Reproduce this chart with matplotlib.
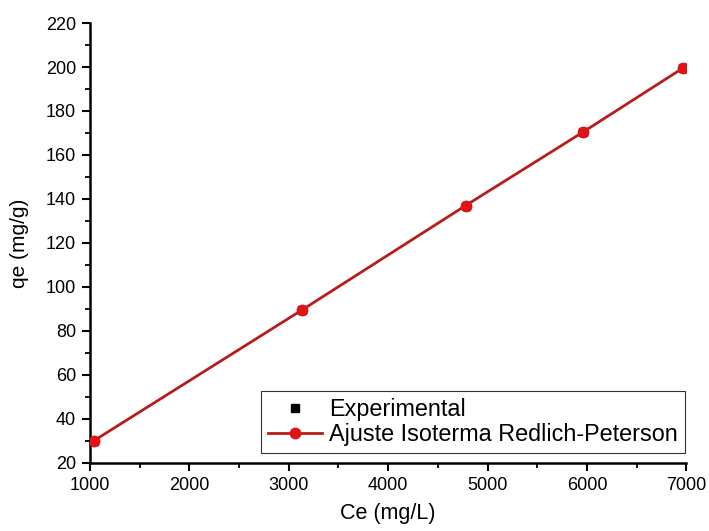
import matplotlib
matplotlib.use("Agg")
import matplotlib.pyplot as plt
from matplotlib.ticker import MultipleLocator

plt.rcParams['font.family'] = ['Liberation Sans', 'DejaVu Sans']

# isotherm data
ce_exp = [1035, 3130, 4780, 5960, 6962]
qe_exp = [29.9, 89.4, 137.0, 170.4, 199.4]
ce_fit = [1035, 3130, 4780, 5960, 6962]
qe_fit = [29.9, 89.4, 137.0, 170.4, 199.4]

fig = plt.figure(figsize=(7.09, 5.31), dpi=100)
ax = fig.add_axes([0.127, 0.1286, 0.841, 0.828])

ax.plot(ce_exp, qe_exp, 's', color='black', markersize=6, label='Experimental', zorder=3)
ax.plot(ce_fit, qe_fit, '-o', color='#b81c1c', markerfacecolor='#e01414',
        markeredgecolor='#e01414', markersize=7.5, linewidth=2, label='Ajuste Isoterma Redlich-Peterson', zorder=4)

ax.set_xlim(1000, 7000)
ax.set_ylim(20, 220)
ax.xaxis.set_major_locator(MultipleLocator(1000))
ax.xaxis.set_minor_locator(MultipleLocator(500))
ax.yaxis.set_major_locator(MultipleLocator(20))
ax.yaxis.set_minor_locator(MultipleLocator(10))

for s in ['top', 'right']:
    ax.spines[s].set_visible(False)
for s in ['left', 'bottom']:
    ax.spines[s].set_linewidth(1.8)

ax.tick_params(which='major', direction='out', length=6, width=1.5, labelsize=13, pad=4)
ax.tick_params(which='minor', direction='out', length=3.5, width=1.3)

ax.set_xlabel('Ce (mg/L)', fontsize=15.5, labelpad=7)
ax.set_ylabel('qe (mg/g)', fontsize=15, labelpad=12)

leg = ax.legend(loc='lower right', bbox_to_anchor=(0.997, 0.022), fontsize=16.8,
                frameon=True, fancybox=False, edgecolor='black', handlelength=2.3,
                borderpad=0.3, labelspacing=0.1, handletextpad=0.3, borderaxespad=0)
leg.get_frame().set_linewidth(0.8)

fig.savefig('out.png', dpi=100)
